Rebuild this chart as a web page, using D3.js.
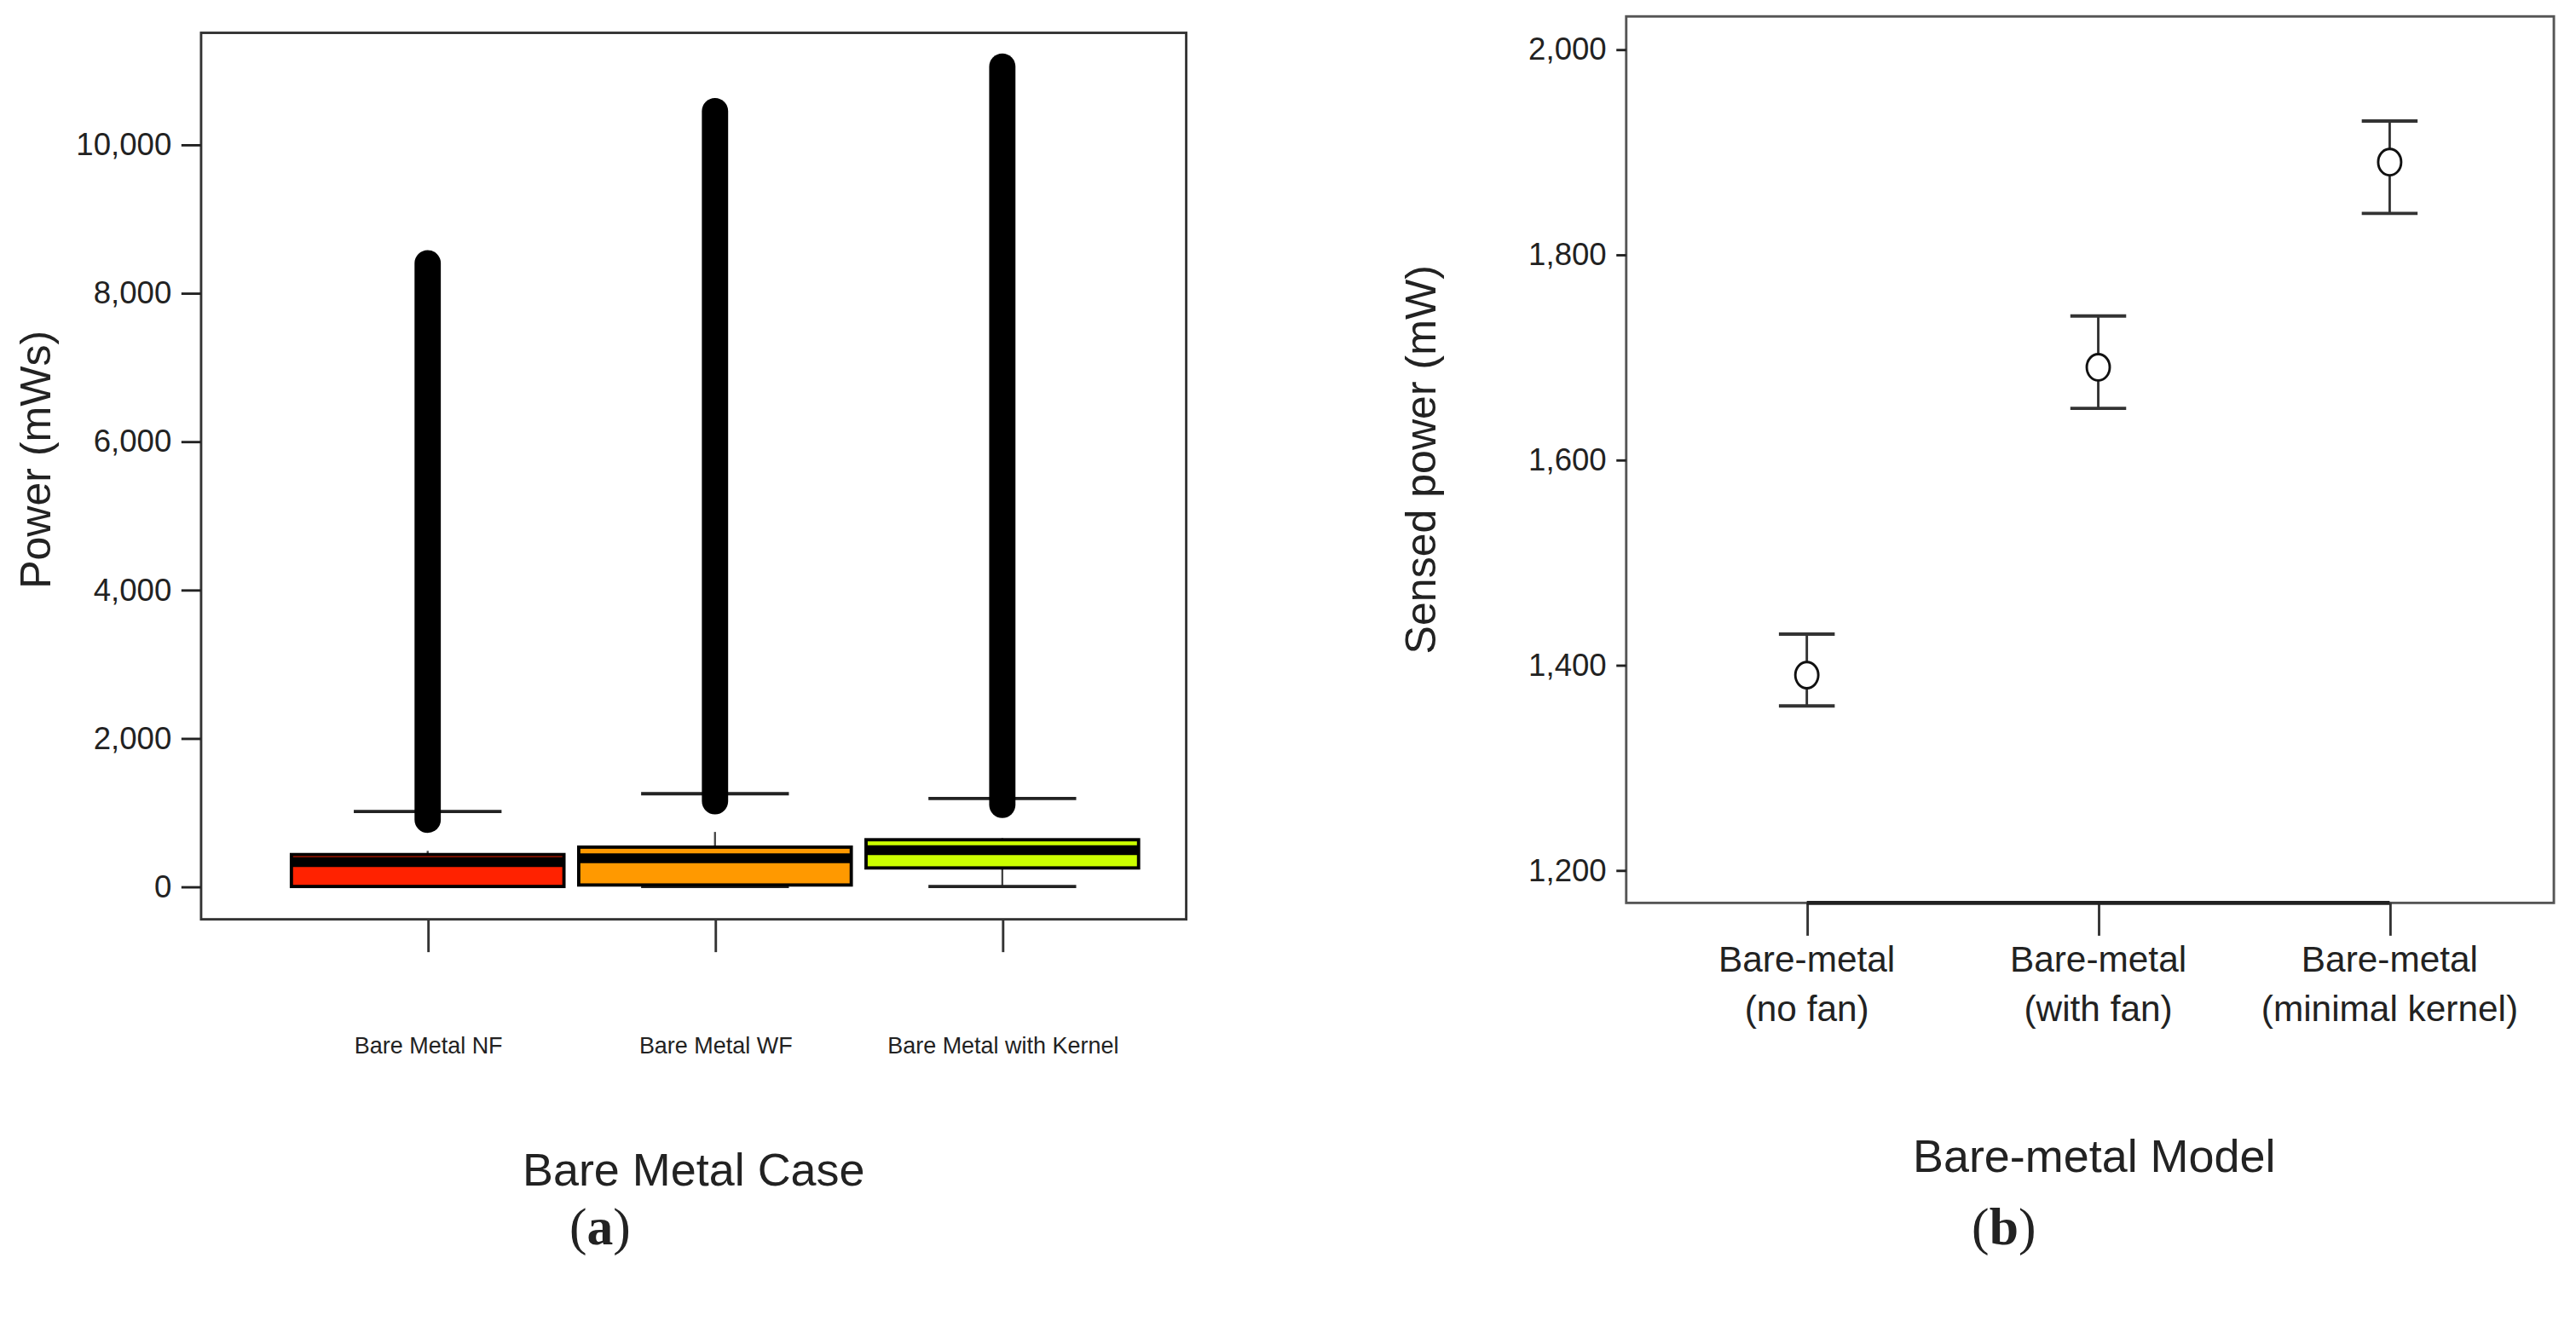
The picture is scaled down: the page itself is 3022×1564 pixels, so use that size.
<!DOCTYPE html>
<html>
<head>
<meta charset="utf-8">
<script src="https://cdn.jsdelivr.net/npm/d3@7"></script>
<style>
  body { margin: 0; background: #fff; }
  text { font-family: "Liberation Sans", Arial, sans-serif; fill: #222; }
</style>
</head>
<body>
<div id="chart"></div>
<script>
// panel (a) data
var boxCases = ["Bare Metal NF", "Bare Metal WF", "Bare Metal with Kernel"];
var boxColors = ["#ff2200", "#ff9900", "#ccff00"];
var boxQ1 = [0, 20, 250];
var boxMedian = [330, 380, 490];
var boxQ3 = [430, 530, 630];
var whiskerLow = [0, 0, 0];
var whiskerHigh = [480, 735, 650];
var capHigh = [1010, 1250, 1185];
var outlierLow = [900, 1150, 1100];
var outlierHigh = [8400, 10450, 11050];
var powerTicks = [0, 2000, 4000, 6000, 8000, 10000];

// panel (b) data
var models = [["Bare-metal", "(no fan)"], ["Bare-metal", "(with fan)"], ["Bare-metal", "(minimal kernel)"]];
var sensedMean = [1390, 1690, 1890];
var sensedLow = [1360, 1650, 1840];
var sensedHigh = [1430, 1740, 1930];
var sensedTicks = [1200, 1400, 1600, 1800, 2000];

var svg = d3.select("#chart")
  .append("svg")
  .attr("width", 3022)
  .attr("height", 1564)
  .attr("viewBox", "0 0 1568 812");

// ---------- panel (a)
var ax = { left: 122, right: 722, top: 20, bottom: 560 };

var xA = d3.scalePoint()
  .domain(boxCases)
  .range([260, 610]);

var yA = d3.scaleLinear()
  .domain([0, 10000])
  .range([540, 88]);

svg.append("rect")
  .attr("x", ax.left).attr("y", ax.top)
  .attr("width", ax.right - ax.left).attr("height", ax.bottom - ax.top)
  .attr("fill", "none").attr("stroke", "#333").attr("stroke-width", 1.5);

var leftA = svg.append("g")
  .attr("transform", `translate(${ax.left},0)`)
  .call(d3.axisLeft(yA).tickValues(powerTicks).tickFormat(d3.format(",")).tickSize(12).tickPadding(6));
leftA.select(".domain").remove();
leftA.selectAll("line").attr("stroke", "#222").attr("stroke-width", 1.5);
leftA.selectAll("text").style("font-size", "19px").style("font-family", "Liberation Sans, Arial, sans-serif").attr("fill", "#222");

var bottomA = svg.append("g")
  .attr("transform", `translate(0,${ax.bottom})`)
  .call(d3.axisBottom(xA).tickSize(20).tickPadding(52));
bottomA.select(".domain").remove();
bottomA.selectAll("line").attr("stroke", "#333").attr("stroke-width", 1.5);
bottomA.selectAll("text").style("font-size", "14px").style("font-family", "Liberation Sans Narrow, Liberation Sans, Arial, sans-serif").attr("fill", "#222");

var boxW = 166;
boxCases.forEach(function (c, i) {
  var cx = xA(c);
  // whiskers
  svg.append("line").attr("x1", cx).attr("x2", cx)
    .attr("y1", yA(whiskerLow[i])).attr("y2", yA(whiskerHigh[i]))
    .attr("stroke", "#444").attr("stroke-width", 1.2);
  [whiskerLow[i], capHigh[i]].forEach(function (v) {
    svg.append("line").attr("x1", cx - 45).attr("x2", cx + 45)
      .attr("y1", yA(v)).attr("y2", yA(v))
      .attr("stroke", "#222").attr("stroke-width", 2);
  });
  // outliers
  svg.append("line").attr("x1", cx).attr("x2", cx)
    .attr("y1", yA(outlierLow[i])).attr("y2", yA(outlierHigh[i]))
    .attr("stroke", "#000").attr("stroke-width", 16).attr("stroke-linecap", "round");
  // box
  svg.append("rect")
    .attr("x", cx - boxW / 2).attr("width", boxW)
    .attr("y", yA(boxQ3[i])).attr("height", yA(boxQ1[i]) - yA(boxQ3[i]))
    .attr("fill", boxColors[i]).attr("stroke", "#000").attr("stroke-width", 2);
  svg.append("line").attr("x1", cx - boxW / 2).attr("x2", cx + boxW / 2)
    .attr("y1", yA(boxMedian[i])).attr("y2", yA(boxMedian[i]))
    .attr("stroke", "#000").attr("stroke-width", 6);
});

svg.append("text")
  .attr("transform", `translate(30,${(ax.top + ax.bottom) / 2 - 10}) rotate(-90)`)
  .attr("text-anchor", "middle").style("font-size", "26px")
  .text("Power (mWs)");

svg.append("text")
  .attr("x", 422).attr("y", 722)
  .attr("text-anchor", "middle").style("font-size", "28px")
  .text("Bare Metal Case");

// ---------- panel (b)
var bx = { left: 990, right: 1555, top: 10, bottom: 550 };

var xB = d3.scalePoint()
  .domain(d3.range(models.length))
  .range([1100, 1455]);

var yB = d3.scaleLinear()
  .domain([1200, 2000])
  .range([530, 30]);

svg.append("rect")
  .attr("x", bx.left).attr("y", bx.top)
  .attr("width", bx.right - bx.left).attr("height", bx.bottom - bx.top)
  .attr("fill", "none").attr("stroke", "#555").attr("stroke-width", 1.5);

var leftB = svg.append("g")
  .attr("transform", `translate(${bx.left},0)`)
  .call(d3.axisLeft(yB).tickValues(sensedTicks).tickFormat(d3.format(",")).tickSize(6).tickPadding(6));
leftB.select(".domain").remove();
leftB.selectAll("line").attr("stroke", "#222").attr("stroke-width", 1.5);
leftB.selectAll("text").style("font-size", "19px").style("font-family", "Liberation Sans, Arial, sans-serif").attr("fill", "#222");

var bottomB = svg.append("g")
  .attr("transform", `translate(0,${bx.bottom})`)
  .call(d3.axisBottom(xB).tickSize(20).tickFormat(""));
bottomB.select(".domain").remove();
bottomB.selectAll("line").attr("stroke", "#333").attr("stroke-width", 1.5);
svg.append("line").attr("x1", xB(0)).attr("x2", xB(2))
  .attr("y1", bx.bottom).attr("y2", bx.bottom)
  .attr("stroke", "#222").attr("stroke-width", 2.5);

models.forEach(function (m, i) {
  var t = svg.append("text")
    .attr("x", xB(i)).attr("y", 592)
    .attr("text-anchor", "middle").style("font-size", "22px");
  t.append("tspan").attr("x", xB(i)).text(m[0]);
  t.append("tspan").attr("x", xB(i)).attr("dy", 30).text(m[1]);

  var cx = xB(i);
  svg.append("line").attr("x1", cx).attr("x2", cx)
    .attr("y1", yB(sensedLow[i])).attr("y2", yB(sensedHigh[i]))
    .attr("stroke", "#333").attr("stroke-width", 1.5);
  [sensedLow[i], sensedHigh[i]].forEach(function (v) {
    svg.append("line").attr("x1", cx - 17).attr("x2", cx + 17)
      .attr("y1", yB(v)).attr("y2", yB(v))
      .attr("stroke", "#333").attr("stroke-width", 2);
  });
  svg.append("ellipse")
    .attr("cx", cx).attr("cy", yB(sensedMean[i]))
    .attr("rx", 7).attr("ry", 8)
    .attr("fill", "#fff").attr("stroke", "#111").attr("stroke-width", 1.5);
});

svg.append("text")
  .attr("transform", `translate(874,${(bx.top + bx.bottom) / 2}) rotate(-90)`)
  .attr("text-anchor", "middle").style("font-size", "26px")
  .text("Sensed power (mW)");

svg.append("text")
  .attr("x", 1275).attr("y", 714)
  .attr("text-anchor", "middle").style("font-size", "28px")
  .text("Bare-metal Model");

// panel letters
[["a", 365], ["b", 1220]].forEach(function (p) {
  var t = svg.append("text")
    .attr("x", p[1]).attr("y", 758)
    .attr("text-anchor", "middle")
    .style("font-family", "Liberation Serif, serif").style("font-size", "32px");
  t.append("tspan").text("(");
  t.append("tspan").style("font-weight", "bold").text(p[0]);
  t.append("tspan").text(")");
});
</script>
</body>
</html>
